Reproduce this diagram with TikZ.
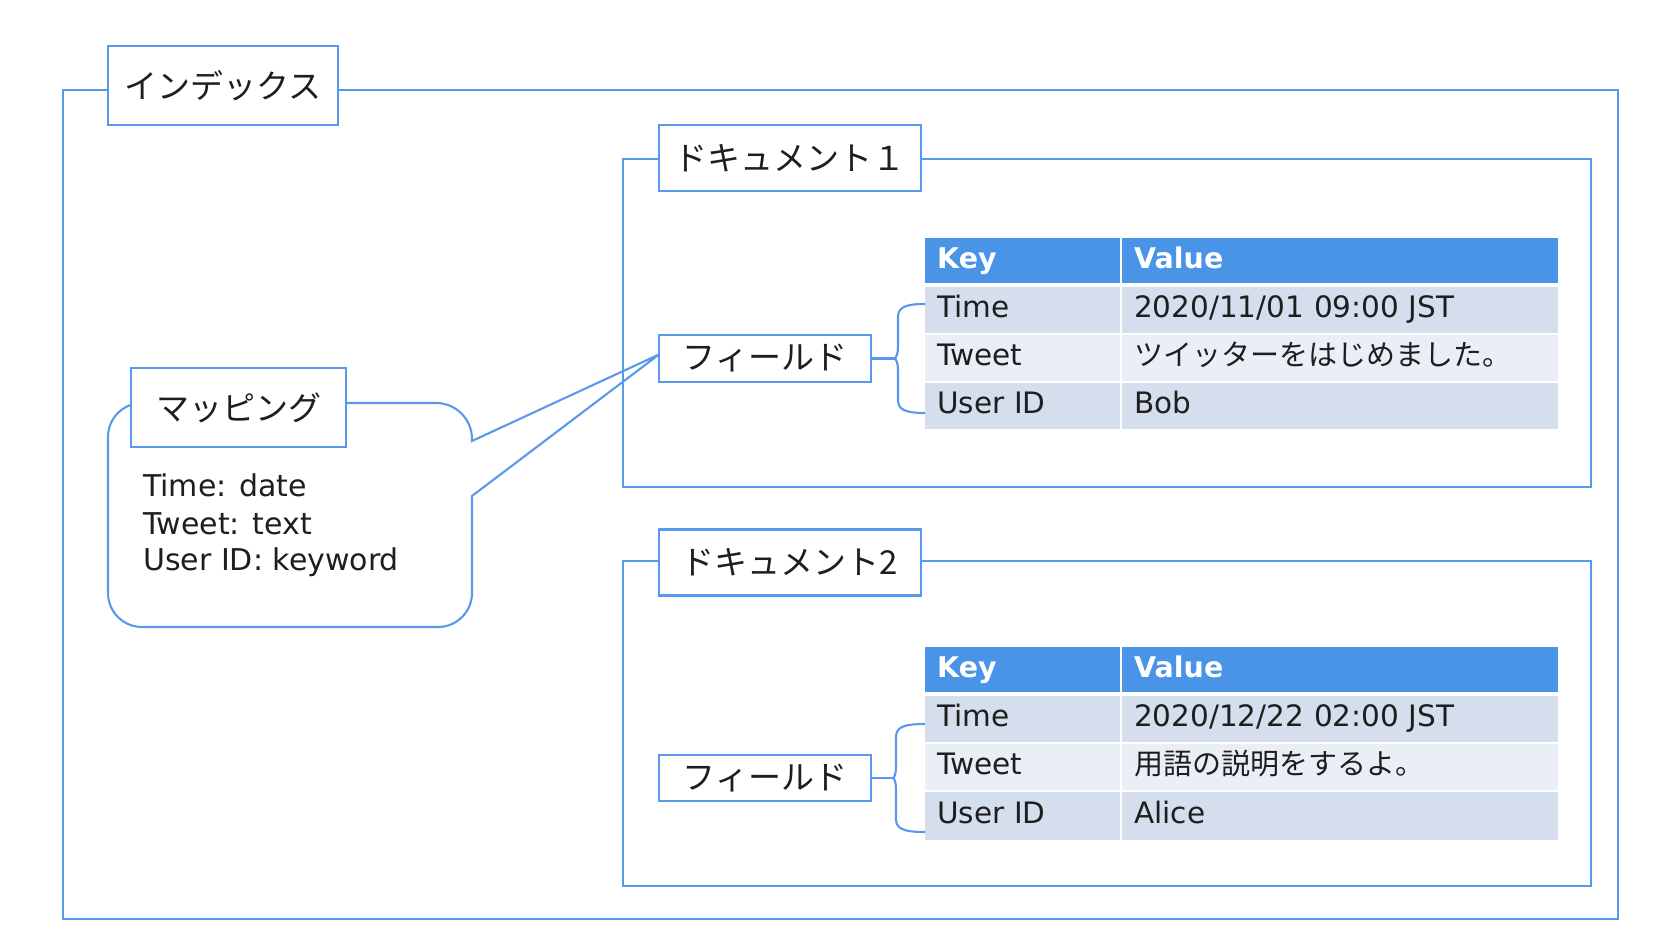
\documentclass[tikz,border=0pt]{standalone}
\usepackage{fontspec}
\setmainfont{DejaVu Sans}
\newfontfamily\jp{Noto Sans CJK JP}
\usetikzlibrary{calc}
\definecolor{lineblue}{RGB}{88,153,236}
\definecolor{headblue}{RGB}{73,148,231}
\definecolor{rowdark}{RGB}{212,222,237}
\definecolor{rowlight}{RGB}{234,239,247}
\definecolor{txt}{RGB}{30,30,30}
\begin{document}
\begin{tikzpicture}[x=1pt,y=1pt,
  frame/.style={draw=lineblue, line width=2.1pt, inner sep=0pt},
  conn/.style={draw=lineblue, line width=2.1pt},
  lbl/.style={draw=lineblue, line width=2.1pt, fill=white, inner sep=0pt, text=txt, font=\jp\fontsize{33}{40}\selectfont},
  mtext/.style={anchor=base west, inner sep=0pt, text=txt, font=\fontsize{30}{36}\selectfont},
  cell/.style={draw=none, inner xsep=12pt, inner ysep=0pt, anchor=north west, align=left, minimum height=46, text height=23, text depth=8, text=txt, font=\fontsize{29.5}{36}\selectfont},
  keycell/.style={cell, text width=171},
  valcell/.style={cell, text width=412},
  headcell/.style={fill=headblue, text=white, minimum height=45, font=\bfseries\fontsize{28.5}{34}\selectfont},
  jpt/.style={font=\jp\fontsize{29}{36}\selectfont}
]
\useasboundingbox (0,0) rectangle (1678,948);
\fill[white] (0,0) rectangle (1678,948);

% index frame and label
\node[frame, minimum width=1555, minimum height=829] (index) at (840.5,443.5) {};
\node[lbl, minimum width=230, minimum height=79] (indexlbl) at (223,862.5) {インデックス};

% document frames
\node[frame, minimum width=968, minimum height=328] (doc1) at (1107,625) {};
\node[frame, minimum width=968, minimum height=325] (doc2) at (1107,224.5) {};
\node[lbl, minimum width=262, minimum height=66] (doc1lbl) at (790,790) {ドキュメント１};
\node[lbl, minimum width=262, minimum height=66] (doc2lbl) at (790,385.5) {ドキュメント2};

% field boxes
\node[lbl, minimum width=212, minimum height=47] (f1) at (765,589.5) {フィールド};
\node[lbl, minimum width=212, minimum height=46] (f2) at (765,170) {フィールド};
\coordinate (tip) at ($(f1.west)+(1,4)$);

% mapping bubble
\draw[conn] (472,507) -- (tip) -- (472,452) -- (472,355)
  arc[start angle=0, end angle=-90, radius=34] -- (142,321)
  arc[start angle=270, end angle=180, radius=34] -- (108,511)
  arc[start angle=180, end angle=90, radius=34] -- (436,545)
  arc[start angle=90, end angle=0, radius=36] -- cycle;
\node[lbl, minimum width=215, minimum height=79] (maplbl) at (238.5,540.5) {マッピング};
\node[mtext] (m1) at (143,451) {Time: date};
\node[mtext] (m2) at (143,413) {Tweet: text};
\node[mtext] (m3) at (143,377) {User ID: keyword};

% field box 1 again on top of the tail
\node[lbl, minimum width=212, minimum height=47] at (f1) {フィールド};

% table 1
\node[keycell, headcell] (t1h1) at (925,710) {Key};
\node[valcell, headcell] (t1h2) at (1122,710) {Value};
\node[keycell, fill=rowdark] (t1k1) at (925,661) {Time};
\node[valcell, fill=rowdark] (t1v1) at (1122,661) {2020/11/01 09:00 JST};
\node[keycell, fill=rowlight] (t1k2) at (925,613) {Tweet};
\node[valcell, fill=rowlight, jpt] (t1v2) at (1122,613) {ツイッターをはじめました。};
\node[keycell, fill=rowdark] (t1k3) at (925,565) {User ID};
\node[valcell, fill=rowdark] (t1v3) at (1122,565) {Bob};

% table 2
\node[keycell, headcell] (t2h1) at (925,301) {Key};
\node[valcell, headcell] (t2h2) at (1122,301) {Value};
\node[keycell, fill=rowdark] (t2k1) at (925,252) {Time};
\node[valcell, fill=rowdark] (t2v1) at (1122,252) {2020/12/22 02:00 JST};
\node[keycell, fill=rowlight] (t2k2) at (925,204) {Tweet};
\node[valcell, fill=rowlight, jpt] (t2v2) at (1122,204) {用語の説明をするよ。};
\node[keycell, fill=rowdark, minimum height=48] (t2k3) at (925,156) {User ID};
\node[valcell, fill=rowdark, minimum height=48] (t2v3) at (1122,156) {Alice};

% braces
\coordinate (b1) at ($(f1.east)+(22,0)$);
\draw[conn] (f1.east) -- (b1);
\draw[conn] (925,644) .. controls (906,644) and (898,641) .. (898,631) -- (898,601)
  .. controls (898,594) and (896,589.5) .. (b1)
  .. controls (896,589.5) and (898,585) .. (898,578) -- (898,548)
  .. controls (898,538) and (906,535) .. (925,535);
\coordinate (b2) at ($(f2.east)+(21,0)$);
\draw[conn] (f2.east) -- (b2);
\draw[conn] (925,224) .. controls (904,224) and (896,221) .. (896,211) -- (896,181)
  .. controls (896,174) and (894,170) .. (b2)
  .. controls (894,170) and (896,166) .. (896,159) -- (896,129)
  .. controls (896,119) and (904,116) .. (925,116);
\end{tikzpicture}
\end{document}
